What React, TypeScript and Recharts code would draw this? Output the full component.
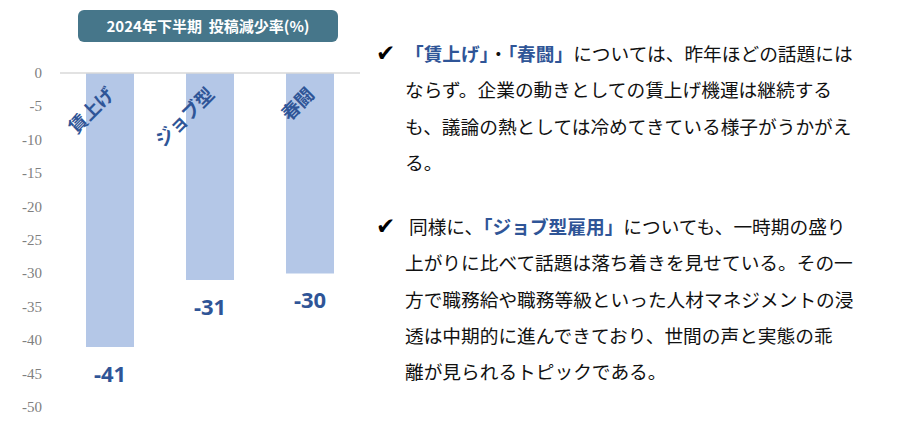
import React from "react";
import { BarChart, Bar, XAxis, YAxis, ReferenceLine, LabelList } from "recharts";

const categories = ["賃上げ", "ジョブ型", "春闘"];
const values = [-41, -31, -30];
const yTicks = [0, -5, -10, -15, -20, -25, -30, -35, -40, -45, -50];
const chartTitle = "2024年下半期  投稿減少率(%)";

const data = categories.map((name, i) => ({ name, value: values[i] }));

const BLUE = "#2f5597";
const BAR = "#b4c7e7";
const JP = "'Noto Sans CJK JP', 'Noto Sans', sans-serif";

const ValueLabel = (props: any) => {
  const x = Number(props.x);
  const y = Number(props.y);
  const w = Number(props.width);
  const h = Number(props.height);
  const bottom = Math.max(y, y + h);
  return (
    <text
      x={x + w / 2}
      y={bottom + 26}
      textAnchor="middle"
      dominantBaseline="central"
      fill={BLUE}
      fontFamily="'Noto Sans', sans-serif"
      fontWeight={700}
      fontSize={22}
    >
      {props.value}
    </text>
  );
};

const NameLabel = (props: any) => {
  const x = Number(props.x);
  const y = Number(props.y);
  const w = Number(props.width);
  const h = Number(props.height);
  const top = Math.min(y, y + h);
  const cx = x + w / 2;
  const cy = top + 17;
  return (
    <text
      x={cx}
      y={cy}
      textAnchor="end"
      dominantBaseline="central"
      fill={BLUE}
      fontFamily={JP}
      fontWeight={600}
      fontSize={18.5}
      transform={`rotate(-45 ${cx} ${cy})`}
    >
      {props.value}
    </text>
  );
};

const YTick = (props: any) => {
  const { x, y, payload } = props;
  return (
    <text
      x={Number(x)}
      y={Number(y)}
      textAnchor="end"
      dominantBaseline="central"
      fill="#808080"
      fontFamily="'Liberation Serif', serif"
      fontSize={15}
    >
      {payload.value}
    </text>
  );
};

const em: React.CSSProperties = { color: BLUE, fontWeight: 700 };

const lineStyle = (top: number, left: number): React.CSSProperties => ({
  position: "absolute",
  top,
  left,
  whiteSpace: "nowrap",
  lineHeight: "20px",
  transform: "translateY(-50%)",
});

const Check = ({ top }: { top: number }) => (
  <div
    style={{
      position: "absolute",
      top,
      left: 376,
      transform: "translateY(-50%)",
      fontFamily: "'DejaVu Sans', sans-serif",
      fontSize: 23,
      lineHeight: "24px",
      color: "#000",
    }}
  >
    ✔
  </div>
);

export default function App() {
  return (
    <div
      style={{
        position: "absolute",
        left: 0,
        top: 0,
        width: 920,
        height: 430,
        background: "#fff",
        overflow: "hidden",
      }}
    >
      <div
        style={{
          position: "absolute",
          left: 78,
          top: 10,
          width: 260,
          height: 32,
          borderRadius: 6,
          background: "#46768a",
          color: "#fff",
          fontFamily: JP,
          fontWeight: 700,
          fontSize: 15,
          lineHeight: "32px",
          textAlign: "center",
          whiteSpace: "pre",
        }}
      >
        {chartTitle}
      </div>
      <div style={{ position: "absolute", left: 0, top: 0 }}>
        <BarChart
          width={370}
          height={430}
          data={data}
          margin={{ top: 73, right: 10, bottom: 23, left: 0 }}
          barCategoryGap={52}
        >
          <XAxis dataKey="name" hide />
          <YAxis
            width={60}
            domain={[-50, 0]}
            ticks={yTicks}
            interval={0}
            axisLine={false}
            tickLine={false}
            tickMargin={12}
            tick={YTick}
          />
          <ReferenceLine y={0} stroke="#d9d9d9" strokeWidth={1.5} />
          <Bar dataKey="value" fill={BAR} barSize={48} isAnimationActive={false}>
            <LabelList dataKey="value" content={ValueLabel} />
            <LabelList dataKey="name" content={NameLabel} />
          </Bar>
        </BarChart>
      </div>

      <div style={{ fontFamily: JP, fontSize: 18.7, color: "#111" }}>
        <Check top={53} />
        <div style={lineStyle(53, 405)}>
          <span style={em}>「賃上げ」</span>・<span style={em}>「春闘」</span>については、昨年ほどの話題には
        </div>
        <div style={lineStyle(89, 405)}>ならず。企業の動きとしての賃上げ機運は継続する</div>
        <div style={lineStyle(126, 405)}>も、議論の熱としては冷めてきている様子がうかがえ</div>
        <div style={lineStyle(162, 405)}>る。</div>

        <Check top={226} />
        <div style={lineStyle(226, 409)}>
          同様に、<span style={em}>「ジョブ型雇用」</span>についても、一時期の盛り
        </div>
        <div style={lineStyle(262, 405)}>上がりに比べて話題は落ち着きを見せている。その一</div>
        <div style={lineStyle(299, 405)}>方で職務給や職務等級といった人材マネジメントの浸</div>
        <div style={lineStyle(335, 405)}>透は中期的に進んできており、世間の声と実態の乖</div>
        <div style={lineStyle(371, 405)}>離が見られるトピックである。</div>
      </div>
    </div>
  );
}
